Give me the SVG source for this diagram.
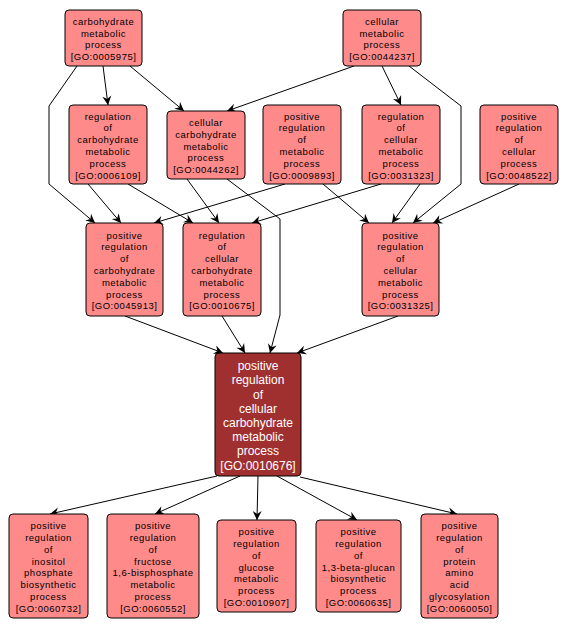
<svg xmlns="http://www.w3.org/2000/svg" width="568" height="629" viewBox="0 0 568 629">
<style>
.n rect{fill:#ff8a8a;stroke:#000;stroke-width:1}
.n text{font-family:"Liberation Sans",Arial,sans-serif;font-size:9.5px;letter-spacing:0.5px;fill:#000;text-anchor:middle}
.m rect{fill:#a03030;stroke:#000;stroke-width:1}
.m text{font-family:"Liberation Sans",Arial,sans-serif;font-size:12px;fill:#fff;text-anchor:middle}
#edges path{fill:none;stroke:#000;stroke-width:1;marker-end:url(#arr)}
</style>
<defs>
<marker id="arr" viewBox="-10 -5 11 10" refX="0" refY="0" markerWidth="11" markerHeight="10" markerUnits="userSpaceOnUse" orient="auto">
<path d="M0,0 L-9,-4.5 L-6,0 L-9,4.5 Z" fill="#000"/>
</marker>
</defs>
<rect width="568" height="629" fill="#fff"/>
<g id="edges">
<path d="M103,66 L108,105"/>
<path d="M130,66 L184,111"/>
<path d="M77,66 L49,106 L49,184 L95,223"/>
<path d="M354,66 L227,111"/>
<path d="M382,66 L401,105"/>
<path d="M409,66 L461,106 L461,184 L413,223"/>
<path d="M88,184 L121,223"/>
<path d="M128,184 L193,223"/>
<path d="M285,184 L154,223"/>
<path d="M187,179 L219,223"/>
<path d="M227,179 L280,219 L280,315 L270,353"/>
<path d="M381,184 L252,223"/>
<path d="M323,184 L369,223"/>
<path d="M420,184 L392,223"/>
<path d="M519,184 L433,223"/>
<path d="M125,316 L223,353"/>
<path d="M222,316 L245,353"/>
<path d="M398,316 L297,353"/>
<path d="M217,476 L50,514"/>
<path d="M240,476 L155,514"/>
<path d="M258,476 L257,520"/>
<path d="M277,476 L357,520"/>
<path d="M300,477 L457,514"/>
</g>
<g id="GO_0005975" class="n"><rect x="65" y="10" width="77" height="56" rx="4"/>
<text x="103.5" y="24.8">carbohydrate</text><text x="103.5" y="36.6">metabolic</text><text x="103.5" y="48.4">process</text><text x="103.5" y="60.2">[GO:0005975]</text></g>
<g id="GO_0044237" class="n"><rect x="343" y="10" width="78" height="56" rx="4"/>
<text x="382" y="24.8">cellular</text><text x="382" y="36.6">metabolic</text><text x="382" y="48.4">process</text><text x="382" y="60.2">[GO:0044237]</text></g>
<g id="GO_0006109" class="n"><rect x="69" y="105" width="78" height="79" rx="4"/>
<text x="108" y="119.5">regulation</text><text x="108" y="131.3">of</text><text x="108" y="143.1">carbohydrate</text><text x="108" y="154.9">metabolic</text><text x="108" y="166.7">process</text><text x="108" y="178.5">[GO:0006109]</text></g>
<g id="GO_0044262" class="n"><rect x="167" y="111" width="78" height="68" rx="4"/>
<text x="206" y="125.9">cellular</text><text x="206" y="137.7">carbohydrate</text><text x="206" y="149.5">metabolic</text><text x="206" y="161.3">process</text><text x="206" y="173.1">[GO:0044262]</text></g>
<g id="GO_0009893" class="n"><rect x="263" y="105" width="78" height="79" rx="4"/>
<text x="302" y="119.5">positive</text><text x="302" y="131.3">regulation</text><text x="302" y="143.1">of</text><text x="302" y="154.9">metabolic</text><text x="302" y="166.7">process</text><text x="302" y="178.5">[GO:0009893]</text></g>
<g id="GO_0031323" class="n"><rect x="362" y="105" width="78" height="79" rx="4"/>
<text x="401" y="119.5">regulation</text><text x="401" y="131.3">of</text><text x="401" y="143.1">cellular</text><text x="401" y="154.9">metabolic</text><text x="401" y="166.7">process</text><text x="401" y="178.5">[GO:0031323]</text></g>
<g id="GO_0048522" class="n"><rect x="480" y="105" width="78" height="79" rx="4"/>
<text x="519" y="119.5">positive</text><text x="519" y="131.3">regulation</text><text x="519" y="143.1">of</text><text x="519" y="154.9">cellular</text><text x="519" y="166.7">process</text><text x="519" y="178.5">[GO:0048522]</text></g>
<g id="GO_0045913" class="n"><rect x="86" y="223" width="77" height="93" rx="4"/>
<text x="124.5" y="238.6">positive</text><text x="124.5" y="250.4">regulation</text><text x="124.5" y="262.2">of</text><text x="124.5" y="274">carbohydrate</text><text x="124.5" y="285.8">metabolic</text><text x="124.5" y="297.6">process</text><text x="124.5" y="309.4">[GO:0045913]</text></g>
<g id="GO_0010675" class="n"><rect x="183" y="223" width="78" height="93" rx="4"/>
<text x="222" y="238.6">regulation</text><text x="222" y="250.4">of</text><text x="222" y="262.2">cellular</text><text x="222" y="274">carbohydrate</text><text x="222" y="285.8">metabolic</text><text x="222" y="297.6">process</text><text x="222" y="309.4">[GO:0010675]</text></g>
<g id="GO_0031325" class="n"><rect x="362" y="223" width="77" height="93" rx="4"/>
<text x="400.5" y="238.6">positive</text><text x="400.5" y="250.4">regulation</text><text x="400.5" y="262.2">of</text><text x="400.5" y="274">cellular</text><text x="400.5" y="285.8">metabolic</text><text x="400.5" y="297.6">process</text><text x="400.5" y="309.4">[GO:0031325]</text></g>
<g id="GO_0010676" class="m"><rect x="215" y="353" width="86" height="123" rx="4"/>
<text x="258" y="370.1">positive</text><text x="258" y="384.3">regulation</text><text x="258" y="398.5">of</text><text x="258" y="412.7">cellular</text><text x="258" y="426.9">carbohydrate</text><text x="258" y="441.1">metabolic</text><text x="258" y="455.3">process</text><text x="258" y="469.5">[GO:0010676]</text></g>
<g id="GO_0060732" class="n"><rect x="9" y="514" width="79" height="104" rx="4"/>
<text x="48.5" y="529.2">positive</text><text x="48.5" y="541">regulation</text><text x="48.5" y="552.8">of</text><text x="48.5" y="564.6">inositol</text><text x="48.5" y="576.4">phosphate</text><text x="48.5" y="588.2">biosynthetic</text><text x="48.5" y="600">process</text><text x="48.5" y="611.8">[GO:0060732]</text></g>
<g id="GO_0060552" class="n"><rect x="107" y="514" width="92" height="104" rx="4"/>
<text x="153" y="529.2">positive</text><text x="153" y="541">regulation</text><text x="153" y="552.8">of</text><text x="153" y="564.6">fructose</text><text x="153" y="576.4">1,6-bisphosphate</text><text x="153" y="588.2">metabolic</text><text x="153" y="600">process</text><text x="153" y="611.8">[GO:0060552]</text></g>
<g id="GO_0010907" class="n"><rect x="217" y="520" width="79" height="92" rx="4"/>
<text x="256.5" y="535.1">positive</text><text x="256.5" y="546.9">regulation</text><text x="256.5" y="558.7">of</text><text x="256.5" y="570.5">glucose</text><text x="256.5" y="582.3">metabolic</text><text x="256.5" y="594.1">process</text><text x="256.5" y="605.9">[GO:0010907]</text></g>
<g id="GO_0060635" class="n"><rect x="316" y="520" width="85" height="92" rx="4"/>
<text x="358.5" y="535.1">positive</text><text x="358.5" y="546.9">regulation</text><text x="358.5" y="558.7">of</text><text x="358.5" y="570.5">1,3-beta-glucan</text><text x="358.5" y="582.3">biosynthetic</text><text x="358.5" y="594.1">process</text><text x="358.5" y="605.9">[GO:0060635]</text></g>
<g id="GO_0060050" class="n"><rect x="421" y="514" width="77" height="104" rx="4"/>
<text x="459.5" y="529.2">positive</text><text x="459.5" y="541">regulation</text><text x="459.5" y="552.8">of</text><text x="459.5" y="564.6">protein</text><text x="459.5" y="576.4">amino</text><text x="459.5" y="588.2">acid</text><text x="459.5" y="600">glycosylation</text><text x="459.5" y="611.8">[GO:0060050]</text></g>
</svg>
